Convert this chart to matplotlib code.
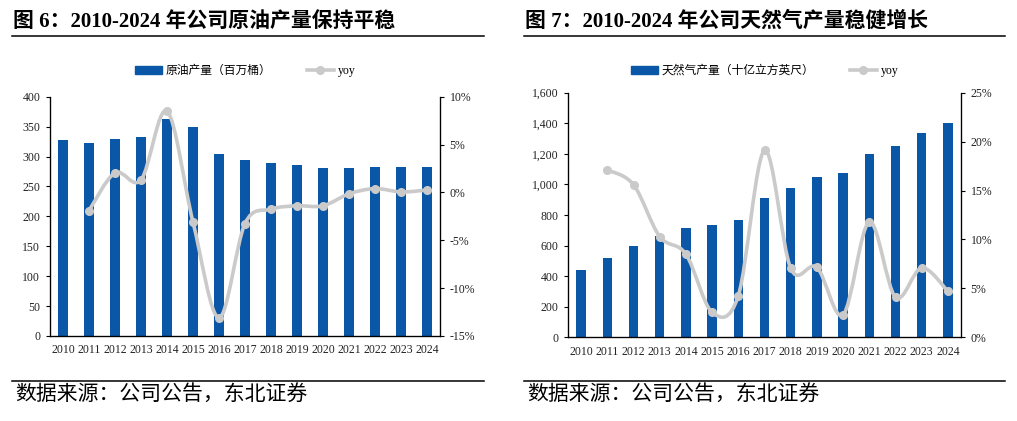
import numpy as np
import matplotlib
matplotlib.use("Agg")
import matplotlib.pyplot as plt
from matplotlib.path import Path
from matplotlib.patches import PathPatch, Rectangle
from matplotlib.lines import Line2D
from matplotlib.ticker import FuncFormatter, MultipleLocator

plt.rcParams["font.family"] = ["Liberation Serif", "Noto Sans CJK SC"]

years = [str(y) for y in range(2010, 2025)]

oil_output = [328, 323, 329, 333, 362, 350, 304, 294, 289, 285, 281, 280.5, 282, 282, 283]
oil_yoy = [-1.9, 2.05, 1.3, 8.5, -3.1, -13.1, -3.25, -1.75, -1.4, -1.4, -0.15, 0.4, 0.05, 0.25]

gas_output = [442, 519, 597, 663, 717, 735, 767, 913, 979, 1049, 1072, 1199, 1249, 1338, 1402]
gas_yoy = [17.1, 15.6, 10.3, 8.5, 2.55, 4.25, 19.1, 7.05, 7.15, 2.3, 11.8, 4.1, 7.1, 4.7]

BAR_COLOR = "#0A57A8"
LINE_COLOR = "#CACACA"
W, H = 1017, 421


def smooth_path(x, y):
    # excel style smoothed line: bezier segments through every point
    x = np.asarray(x, float)
    y = np.asarray(y, float)
    n = len(x)
    verts = [(x[0], y[0])]
    codes = [Path.MOVETO]
    for i in range(n - 1):
        i0 = max(i - 1, 0)
        i3 = min(i + 2, n - 1)
        c1 = (x[i] + (x[i + 1] - x[i0]) / 6, y[i] + (y[i + 1] - y[i0]) / 6)
        c2 = (x[i + 1] - (x[i3] - x[i]) / 6, y[i + 1] - (y[i3] - y[i]) / 6)
        verts += [c1, c2, (x[i + 1], y[i + 1])]
        codes += [Path.CURVE4] * 3
    return Path(verts, codes)


def panel(rect, output, yoy, ymax, ystep, rlim, rstep, bar_label, thousands):
    ax = fig.add_axes(rect)
    xs = np.arange(len(years))
    ax.bar(xs, output, width=0.36, color=BAR_COLOR, zorder=2)
    ax.set_xlim(-0.5, len(years) - 0.5)
    ax.set_ylim(0, ymax)
    ax.yaxis.set_major_locator(MultipleLocator(ystep))
    if thousands:
        ax.yaxis.set_major_formatter(FuncFormatter(lambda v, p: f"{v:,.0f}"))
    ax.set_xticks(xs)
    ax.set_xticklabels(years)
    ax.tick_params(axis="x", length=0, pad=6, labelsize=8.5, colors="#222222")
    ax.tick_params(axis="y", length=3, width=0.8, pad=4, labelsize=8.5, colors="#222222", color="black")
    ax.spines["top"].set_visible(False)
    for s in ("left", "bottom", "right"):
        ax.spines[s].set_linewidth(0.9)

    ax2 = ax.twinx()
    ax2.set_ylim(*rlim)
    ax2.yaxis.set_major_locator(MultipleLocator(rstep))
    ax2.yaxis.set_major_formatter(FuncFormatter(lambda v, p: f"{v:.0f}%"))
    ax2.tick_params(axis="y", length=3, width=0.8, pad=4, labelsize=8.5, colors="#222222", color="black")
    ax2.spines["top"].set_visible(False)
    lx = xs[1:]
    ax2.add_patch(PathPatch(smooth_path(lx, yoy), fill=False, edgecolor=LINE_COLOR,
                            linewidth=2.6, zorder=3, capstyle="round", joinstyle="round"))
    ax2.plot(lx, yoy, linestyle="none", marker="o", markersize=5.5, color=LINE_COLOR, zorder=4)

    handles = [Rectangle((0, 0), 1, 1, color=BAR_COLOR),
               Line2D([], [], color=LINE_COLOR, linewidth=2.6, marker="o", markersize=5.5)]
    cx = (rect[0] + rect[2] / 2)
    fig.legend(handles, [bar_label, "yoy"], loc="center", bbox_to_anchor=(cx, 1 - 71 / H),
               ncol=2, frameon=False, fontsize=8.5, handlelength=2.3, handleheight=0.6,
               columnspacing=3.0, handletextpad=0.3)
    return ax


fig = plt.figure(figsize=(W / 100, H / 100), dpi=100)

panel([50 / W, 1 - 336 / H, 390 / W, (336 - 96.7) / H], oil_output, oil_yoy,
      400, 50, (-15, 10), 5, "原油产量（百万桶）", False)
panel([568 / W, 1 - 337.3 / H, 393 / W, (337.3 - 92.7) / H], gas_output, gas_yoy,
      1600, 200, (0, 25), 5, "天然气产量（十亿立方英尺）", True)

titles = ["图 6：2010-2024 年公司原油产量保持平稳", "图 7：2010-2024 年公司天然气产量稳健增长"]
for x0, x1, t in [(12, 484, titles[0]), (524, 1005, titles[1])]:
    fig.text((x0 + 1) / W, 1 - 22 / H, t, fontsize=15, fontweight="bold", va="center", ha="left")
    fig.add_artist(Line2D([x0 / W, x1 / W], [1 - 35.5 / H] * 2, color="black", linewidth=1.1))
    fig.add_artist(Line2D([x0 / W, x1 / W], [1 - 381 / H] * 2, color="black", linewidth=1.1))
    fig.text((x0 + 3) / W, 1 - 395 / H, "数据来源：公司公告，东北证券", fontsize=15,
             va="center", ha="left")

fig.savefig("out.png", dpi=100)
